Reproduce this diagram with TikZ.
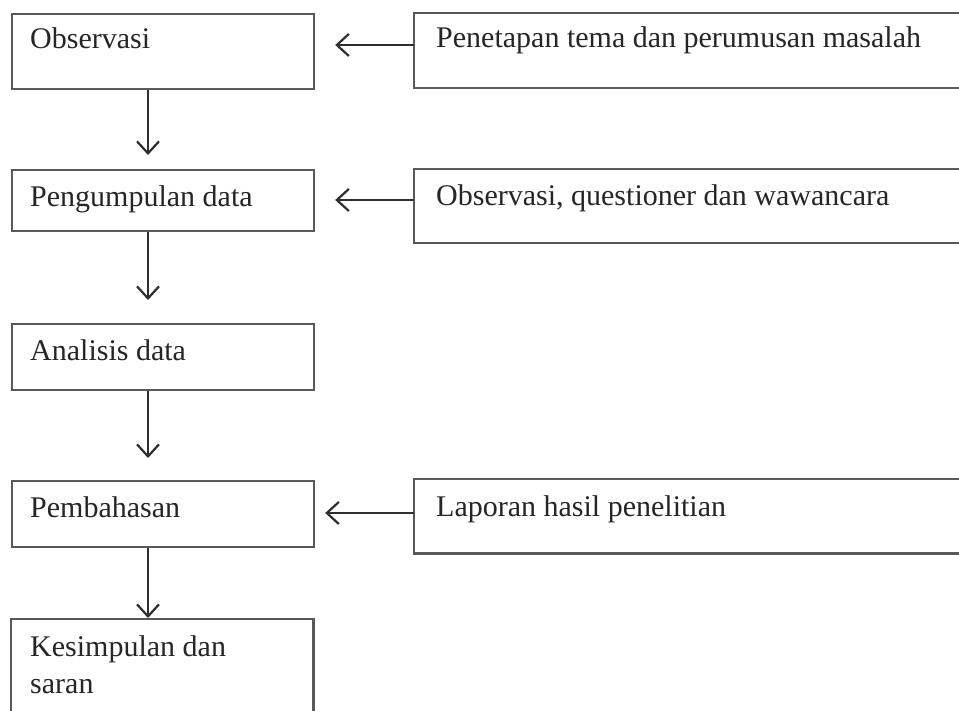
\documentclass[tikz,border=0pt]{standalone}
\usepackage{fontspec}
\setmainfont{Liberation Serif}
\usetikzlibrary{arrows.meta}
\begin{document}
\begin{tikzpicture}[x=1pt,y=-1pt,
  boxline/.style={draw=black!65,line width=2.2pt},
  frame/.style={rectangle,inner sep=0pt,anchor=north west},
  txt/.style={anchor=base west,inner sep=0pt,text=black!85,font=\fontsize{30}{37}\selectfont},
  conn/.style={draw=black!82,line width=2.2pt,-{Straight Barb[length=12pt,width=22pt,line width=2.2pt]}}]
\useasboundingbox (0,0) rectangle (959,711);
\fill[white] (0,0) rectangle (959,711);
% left column boxes
\node[frame,boxline,minimum width=302pt,minimum height=75pt] (L1) at (11,13) {};
\node[frame,boxline,minimum width=302pt,minimum height=61pt] (L2) at (11,169) {};
\node[frame,boxline,minimum width=302pt,minimum height=66pt] (L3) at (11,323) {};
\node[frame,boxline,minimum width=302pt,minimum height=66pt] (L4) at (11,480) {};
\node[frame,minimum width=302pt,minimum height=92pt] (L5) at (11,619) {};
\draw[boxline] (L5.south west) -- (L5.north west) -- (L5.north east) -- (L5.south east);
% right column boxes (run off the right edge)
\node[frame,minimum width=545pt,minimum height=75pt] (R1) at (414,13) {};
\node[frame,minimum width=545pt,minimum height=74pt] (R2) at (414,169) {};
\node[frame,minimum width=545pt,minimum height=74pt] (R3) at (414,479) {};
\foreach \r in {R1,R2,R3}
  \draw[boxline] (\r.north east) -- (\r.north west) -- (\r.south west) -- (\r.south east);
% texts
\node[txt] (t1) at (30,49) {Observasi};
\node[txt] (t2) at (30,207) {Pengumpulan data};
\node[txt] (t3) at (30,361) {Analisis data};
\node[txt] (t4) at (30,517) {Pembahasan};
\node[txt] (t5a) at (30,656) {Kesimpulan dan};
\node[txt] (t5b) at (30,693) {saran};
\node[txt] (u1) at (436,48) {Penetapan tema dan perumusan masalah};
\node[txt] (u2) at (436,206) {Observasi, questioner dan wawancara};
\node[txt] (u3) at (436,516) {Laporan hasil penelitian};
% connector guides
\coordinate (ax) at (148,0);
\coordinate (h1) at (0,45);
\coordinate (h2) at (0,200);
\coordinate (h3) at (0,513);
% vertical arrows
\draw[conn,shorten >=14pt] (L1.south -| ax) -- (L2.north -| ax);
\draw[conn,shorten >=23pt] (L2.south -| ax) -- (L3.north -| ax);
\draw[conn,shorten >=22pt] (L3.south -| ax) -- (L4.north -| ax);
\draw[conn,shorten >=1pt] (L4.south -| ax) -- (L5.north -| ax);
% horizontal arrows
\draw[conn,shorten >=20pt] (R1.west |- h1) -- (L1.east |- h1);
\draw[conn,shorten >=20pt] (R2.west |- h2) -- (L2.east |- h2);
\draw[conn,shorten >=10pt] (R3.west |- h3) -- (L4.east |- h3);
\end{tikzpicture}
\end{document}
